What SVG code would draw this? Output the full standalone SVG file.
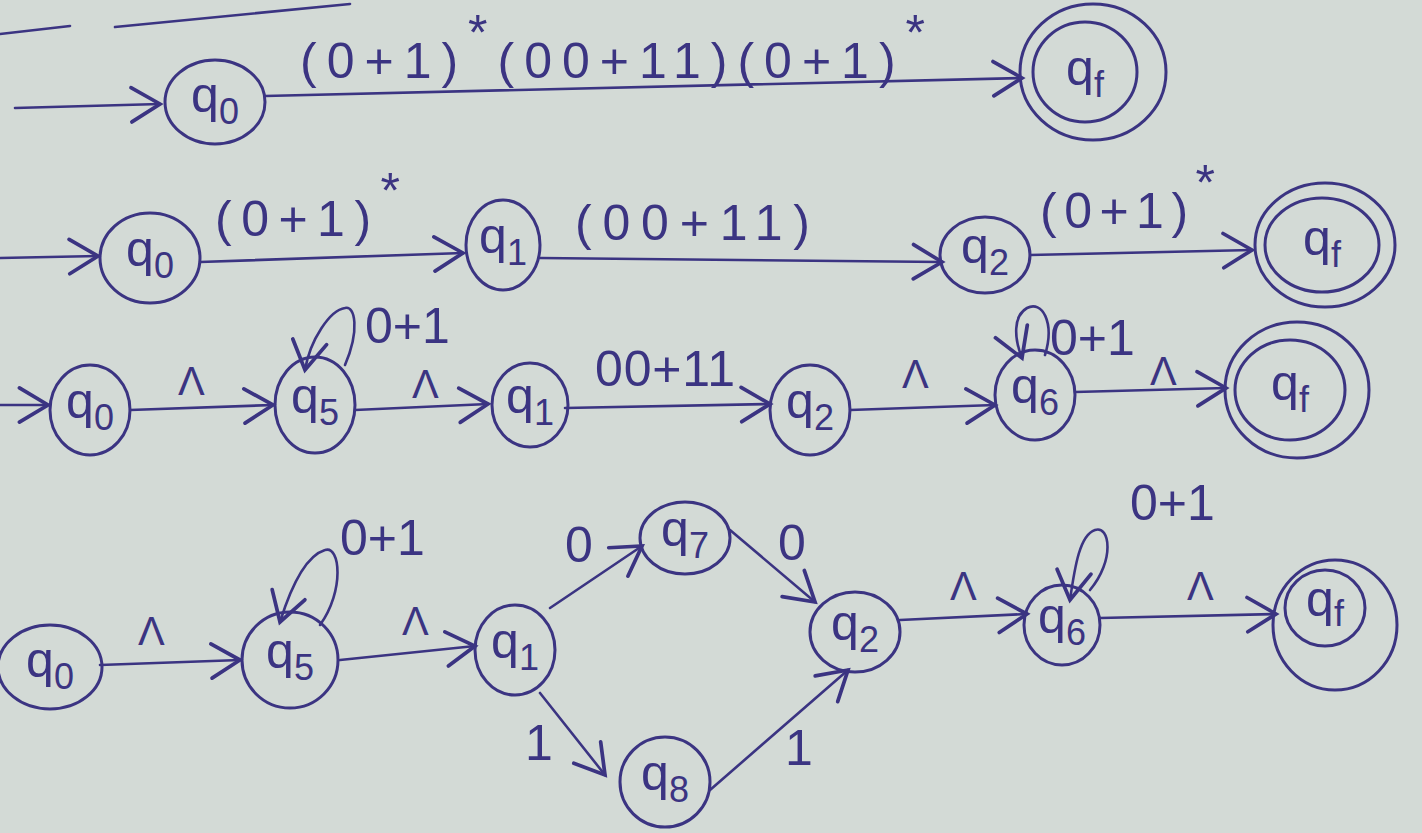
<svg xmlns="http://www.w3.org/2000/svg" width="1422" height="833" viewBox="0 0 1422 833">
<style>
.bg{fill:#d3dad6}
.n{fill:none;stroke:#3b3482;stroke-width:3}
.e{fill:none;stroke:#3b3482;stroke-width:2.6;stroke-linecap:round}
.t{font-family:"Liberation Sans","DejaVu Sans",sans-serif;fill:#3b3482;font-size:50px}
.s{font-size:36px}
.l{font-family:"Liberation Sans","DejaVu Sans",sans-serif;fill:#3b3482;font-size:50px}
.lam{font-size:40px}
</style>
<defs>
<marker id="a" markerUnits="userSpaceOnUse" markerWidth="40" markerHeight="40" refX="22" refY="14" orient="auto" viewBox="0 0 28 28">
<path d="M2,2 L22,14 L2,26" fill="none" stroke="#3b3482" stroke-width="2.6" stroke-linecap="round"/>
</marker>
</defs>
<rect class="bg" x="0" y="0" width="1422" height="833"/>
<g id="scribble">
<path class="e" d="M0,34 L70,26"/>
<path class="e" d="M115,27 L350,4"/>
</g>
<g id="connectors">
<!-- row 1 -->
<path class="e" d="M15,108 L160,104" marker-end="url(#a)"/>
<path class="e" d="M265,96 L1022,78" marker-end="url(#a)"/>
<!-- row 2 -->
<path class="e" d="M0,258 L98,256" marker-end="url(#a)"/>
<path class="e" d="M200,262 L463,253" marker-end="url(#a)"/>
<path class="e" d="M540,258 L942,262" marker-end="url(#a)"/>
<path class="e" d="M1030,255 L1252,250" marker-end="url(#a)"/>
<!-- row 3 -->
<path class="e" d="M0,405 L48,405" marker-end="url(#a)"/>
<path class="e" d="M130,410 L273,405" marker-end="url(#a)"/>
<path class="e" d="M355,410 L488,404" marker-end="url(#a)"/>
<path class="e" d="M565,408 L770,404" marker-end="url(#a)"/>
<path class="e" d="M850,410 L995,405" marker-end="url(#a)"/>
<path class="e" d="M1075,392 L1226,388" marker-end="url(#a)"/>
<path class="e" d="M345,365 C360,330 355,305 345,308 C330,310 310,340 305,370" marker-end="url(#a)"/>
<path class="e" d="M1045,355 C1055,322 1042,300 1027,308 C1013,316 1014,338 1022,358" marker-end="url(#a)"/>
<!-- row 4 -->
<path class="e" d="M100,665 L240,660" marker-end="url(#a)"/>
<path class="e" d="M340,660 L475,646" marker-end="url(#a)"/>
<path class="e" d="M320,625 C345,590 340,545 325,550 C305,556 290,590 280,622" marker-end="url(#a)"/>
<path class="e" d="M550,608 L642,546" marker-end="url(#a)"/>
<path class="e" d="M730,530 L815,602" marker-end="url(#a)"/>
<path class="e" d="M540,693 L605,775" marker-end="url(#a)"/>
<path class="e" d="M710,790 L848,670" marker-end="url(#a)"/>
<path class="e" d="M900,620 L1027,614" marker-end="url(#a)"/>
<path class="e" d="M1100,618 L1276,614" marker-end="url(#a)"/>
<path class="e" d="M1090,590 C1115,560 1110,525 1095,530 C1080,535 1075,565 1070,600" marker-end="url(#a)"/>
</g>
<g id="edge-labels">
<text class="l" x="300" y="78" font-size="56" textLength="625">(0+1)<tspan dy="-28">*</tspan><tspan dy="28">(00+11)(0+1)</tspan><tspan dy="-28">*</tspan></text>
<text class="l" x="215" y="236" font-size="54" textLength="185">(0+1)<tspan dy="-28">*</tspan></text>
<text class="l" x="575" y="240" font-size="54" textLength="235">(00+11)</text>
<text class="l" x="1040" y="228" font-size="54" textLength="175">(0+1)<tspan dy="-28">*</tspan></text>
<text class="l lam" x="178" y="395">Λ</text>
<text class="l" x="365" y="343">0+1</text>
<text class="l lam" x="412" y="398">Λ</text>
<text class="l" x="595" y="386" textLength="140">00+11</text>
<text class="l lam" x="902" y="388">Λ</text>
<text class="l" x="1050" y="355">0+1</text>
<text class="l lam" x="1150" y="385">Λ</text>
<text class="l lam" x="138" y="645">Λ</text>
<text class="l" x="340" y="555">0+1</text>
<text class="l lam" x="402" y="635">Λ</text>
<text class="l" x="565" y="562" font-size="40">0</text>
<text class="l" x="778" y="560" font-size="40">0</text>
<text class="l" x="525" y="760">1</text>
<text class="l" x="785" y="765">1</text>
<text class="l lam" x="950" y="600">Λ</text>
<text class="l" x="1130" y="520">0+1</text>
<text class="l lam" x="1187" y="600">Λ</text>
</g>
<g id="r1-q0"><ellipse class="n" cx="215" cy="102" rx="50" ry="42"/><text class="t" x="215" y="112" text-anchor="middle">q<tspan class="s" dy="12">0</tspan></text></g>
<g id="r1-qf"><ellipse class="n" cx="1093" cy="72" rx="73" ry="68"/><ellipse class="n" cx="1085" cy="72" rx="52" ry="50"/><text class="t" x="1085" y="85" text-anchor="middle">q<tspan class="s" dy="12">f</tspan></text></g>
<g id="r2-q0"><ellipse class="n" cx="150" cy="258" rx="50" ry="45"/><text class="t" x="150" y="266" text-anchor="middle">q<tspan class="s" dy="12">0</tspan></text></g>
<g id="r2-q1"><ellipse class="n" cx="503" cy="245" rx="37" ry="45"/><text class="t" x="503" y="253" text-anchor="middle">q<tspan class="s" dy="12">1</tspan></text></g>
<g id="r2-q2"><ellipse class="n" cx="985" cy="255" rx="45" ry="38"/><text class="t" x="985" y="263" text-anchor="middle">q<tspan class="s" dy="12">2</tspan></text></g>
<g id="r2-qf"><ellipse class="n" cx="1325" cy="245" rx="70" ry="62"/><ellipse class="n" cx="1322" cy="245" rx="57" ry="47"/><text class="t" x="1322" y="255" text-anchor="middle">q<tspan class="s" dy="12">f</tspan></text></g>
<g id="r3-q0"><ellipse class="n" cx="90" cy="410" rx="40" ry="45"/><text class="t" x="90" y="418" text-anchor="middle">q<tspan class="s" dy="12">0</tspan></text></g>
<g id="r3-q5"><ellipse class="n" cx="315" cy="405" rx="40" ry="48"/><text class="t" x="315" y="413" text-anchor="middle">q<tspan class="s" dy="12">5</tspan></text></g>
<g id="r3-q1"><ellipse class="n" cx="530" cy="405" rx="38" ry="42"/><text class="t" x="530" y="413" text-anchor="middle">q<tspan class="s" dy="12">1</tspan></text></g>
<g id="r3-q2"><ellipse class="n" cx="810" cy="410" rx="40" ry="45"/><text class="t" x="810" y="418" text-anchor="middle">q<tspan class="s" dy="12">2</tspan></text></g>
<g id="r3-q6"><ellipse class="n" cx="1035" cy="395" rx="40" ry="45"/><text class="t" x="1035" y="403" text-anchor="middle">q<tspan class="s" dy="12">6</tspan></text></g>
<g id="r3-qf"><ellipse class="n" cx="1297" cy="390" rx="72" ry="68"/><ellipse class="n" cx="1290" cy="390" rx="55" ry="50"/><text class="t" x="1290" y="400" text-anchor="middle">q<tspan class="s" dy="12">f</tspan></text></g>
<g id="r4-q0"><ellipse class="n" cx="50" cy="667" rx="52" ry="42"/><text class="t" x="50" y="677" text-anchor="middle">q<tspan class="s" dy="12">0</tspan></text></g>
<g id="r4-q5"><ellipse class="n" cx="290" cy="660" rx="48" ry="48"/><text class="t" x="290" y="668" text-anchor="middle">q<tspan class="s" dy="12">5</tspan></text></g>
<g id="r4-q1"><ellipse class="n" cx="515" cy="650" rx="40" ry="45"/><text class="t" x="515" y="658" text-anchor="middle">q<tspan class="s" dy="12">1</tspan></text></g>
<g id="r4-q7"><ellipse class="n" cx="685" cy="538" rx="45" ry="36"/><text class="t" x="685" y="546" text-anchor="middle">q<tspan class="s" dy="12">7</tspan></text></g>
<g id="r4-q8"><ellipse class="n" cx="665" cy="782" rx="45" ry="45"/><text class="t" x="665" y="790" text-anchor="middle">q<tspan class="s" dy="12">8</tspan></text></g>
<g id="r4-q2"><ellipse class="n" cx="855" cy="632" rx="45" ry="40"/><text class="t" x="855" y="640" text-anchor="middle">q<tspan class="s" dy="12">2</tspan></text></g>
<g id="r4-q6"><ellipse class="n" cx="1062" cy="625" rx="38" ry="40"/><text class="t" x="1062" y="633" text-anchor="middle">q<tspan class="s" dy="12">6</tspan></text></g>
<g id="r4-qf"><ellipse class="n" cx="1335" cy="625" rx="62" ry="65"/><ellipse class="n" cx="1325" cy="608" rx="40" ry="38"/><text class="t" x="1325" y="616" text-anchor="middle" font-size="44">q<tspan class="s" dy="10" font-size="32">f</tspan></text></g>
</svg>
